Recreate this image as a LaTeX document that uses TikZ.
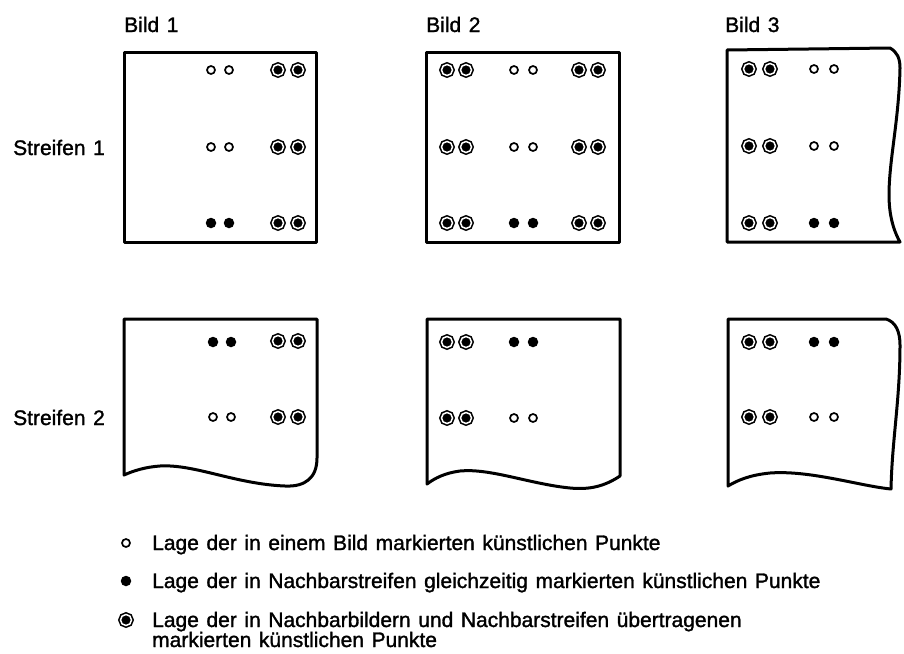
\documentclass[tikz,border=0pt]{standalone}
\usepackage{fontspec}
\setmainfont{Liberation Sans}[FakeBold=1.4, WordSpace=1.3]
\begin{document}
\begin{tikzpicture}
[x=1pt, y=-1pt, font=\fontsize{21}{24}\selectfont,
 rand/.style={line width=3pt, line join=round},
 offen/.style={circle, draw, line width=1.7pt, inner sep=0pt, minimum size=8pt},
 voll/.style={circle, fill, inner sep=0pt, minimum size=10.5pt},
 doppelt/.style={circle, fill, draw, double=white, double distance=1.5pt,
                 line width=1.6pt, inner sep=0pt, minimum size=11pt},
 txt/.style={anchor=base west, inner sep=0pt}]
\useasboundingbox (0,0) rectangle (904,653);
% labels
\node[txt] (bild1) at (124,32) {Bild 1};
\node[txt] (bild2) at (426,32) {Bild 2};
\node[txt] (bild3) at (725,32) {Bild 3};
\node[txt] (str1) at (13,155) {Streifen 1};
\node[txt] (str2) at (13,425) {Streifen 2};
% Streifen 1
\draw[rand] (124,52) rectangle (316,242);
\draw[rand] (426,52) rectangle (619,242);
\draw[rand] (727,50) -- (890,48) .. controls (897,52) and (900,58) .. (900,68)
   .. controls (899,120) and (889,160) .. (889,195)
   .. controls (889,220) and (896,235) .. (900,242) -- (727,242) -- cycle;
% Streifen 2
\draw[rand] (124,319) -- (317,319) -- (317,458) .. controls (317,478) and (305,487) .. (285,486)
   .. controls (235,484) and (195,464) .. (160,466)
   .. controls (145,467) and (133,471) .. (124,475) -- cycle;
\draw[rand] (427,319) -- (620,319) -- (620,476) .. controls (605,486) and (590,490) .. (570,488)
   .. controls (530,484) and (490,468) .. (460,471)
   .. controls (445,473) and (435,478) .. (427,484) -- cycle;
\draw[rand] (728,319) -- (886,319) .. controls (896,322) and (900,332) .. (900,345)
   .. controls (900,400) and (892,440) .. (891,489)
   .. controls (860,486) and (810,470) .. (770,473)
   .. controls (750,475) and (738,480) .. (728,486) -- cycle;
% Punkte, Bild 1
\foreach \x in {211,229}{
  \foreach \y in {70,147} \node[offen] (a-\x-\y) at (\x,\y) {};
  \node[voll] (a-\x-223) at (\x,223) {};
  \node[voll] (a-\x-342) at (\x+2,342) {};
  \node[offen] (a-\x-417) at (\x+2,417) {};
}
\foreach \x in {278,298}
  \foreach \y in {70,147,223,341,417} \node[doppelt] (a-\x-\y) at (\x,\y) {};
% Punkte, Bild 2
\foreach \x in {447,466,579,598}
  \foreach \y in {70,147,223} \node[doppelt] (b-\x-\y) at (\x,\y) {};
\foreach \x in {447,466}
  \foreach \y in {342,418} \node[doppelt] (b-\x-\y) at (\x,\y) {};
\foreach \x in {514,533}{
  \foreach \y in {70,147,418} \node[offen] (b-\x-\y) at (\x,\y) {};
  \foreach \y in {223,342} \node[voll] (b-\x-\y) at (\x,\y) {};
}
% Punkte, Bild 3
\foreach \x in {749,770}
  \foreach \y in {69,146,223,342,417} \node[doppelt] (c-\x-\y) at (\x,\y) {};
\foreach \x in {814,834}{
  \foreach \y in {69,146,417} \node[offen] (c-\x-\y) at (\x,\y) {};
  \foreach \y in {223,342} \node[voll] (c-\x-\y) at (\x,\y) {};
}
% Legende
\node[offen] (leg1) at (126,543) {};
\node[voll] (leg2) at (126,581) {};
\node[doppelt] (leg3) at (126,620) {};
\node[txt] (txt1) at (152,550) {Lage der in einem Bild markierten künstlichen Punkte};
\node[txt] (txt2) at (152,588) {Lage der in Nachbarstreifen gleichzeitig markierten künstlichen Punkte};
\node[txt] (txt3) at (152,627) {Lage der in Nachbarbildern und Nachbarstreifen übertragenen};
\node[txt] (txt4) at (152,647) {markierten künstlichen Punkte};
\end{tikzpicture}
\end{document}
